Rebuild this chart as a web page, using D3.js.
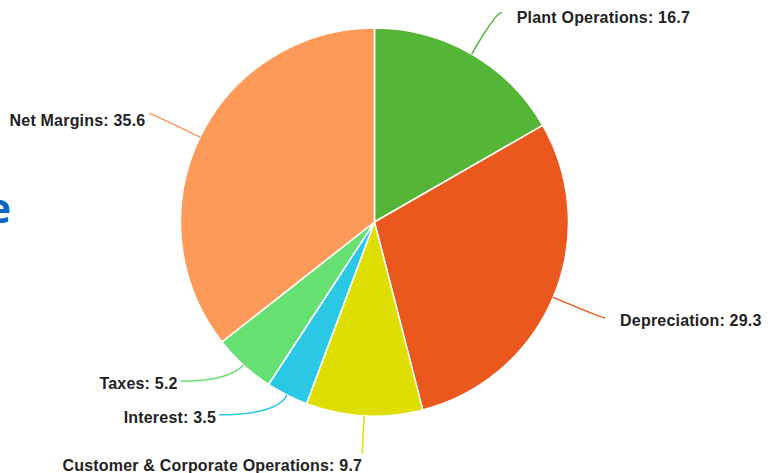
<!DOCTYPE html>
<html>
<head>
<meta charset="utf-8">
<script src="https://cdn.jsdelivr.net/npm/d3@7"></script>
<style>
    html, body { margin: 0; padding: 0; background: #fff; overflow: hidden; }
    svg { display: block; }
</style>
</head>
<body>
<div class="Canvas"></div>
<script>
// slices, clockwise from 12 o'clock
const categories = ['Plant Operations', 'Depreciation', 'Customer & Corporate Operations', 'Interest', 'Taxes', 'Net Margins'];
const values = [16.7, 29.3, 9.7, 3.5, 5.2, 35.6];
const colors = ['#55b536', '#ea581d', '#dedf00', '#2bc8e6', '#66e072', '#fd9a59'];

// label placement: radius of the elbow, horizontal run after it, text nudge
const labelExt = [242, 247, 232, 216, 216, 248];
const labelRun = [6, 3, 0, 58, 48, 2];
const labelDx = [15, 15, 0, -3, -3, -4];
const labelDy = [10, 8, 17, 8, 8, 12];

const width = 771;
const height = 473;
const cx = 374.5;
const cy = 222;
const radius = 194;

let svg = d3.select('.Canvas').append('svg').attr('width', width).attr('height', height);

// clipped heading word from the slide behind the chart
svg.append('text')
    .attr('x', 11)
    .attr('y', 223)
    .attr('text-anchor', 'end')
    .attr('font-family', '"Open Sans", "Liberation Sans", Arial, sans-serif')
    .attr('font-weight', 'bold')
    .attr('font-size', '42px')
    .attr('fill', '#0b67c2')
    .text('Secure');

let pie = d3.pie().sort(null).value((d) => d.value);
let arc = d3.arc().innerRadius(0).outerRadius(radius);

let data = categories.map((c, i) => ({ name: c, value: values[i], color: colors[i], i: i }));
let arcs = pie(data);

let g = svg.append('g').attr('transform', `translate(${cx},${cy})`);

g.selectAll('path.slice')
    .data(arcs)
    .enter()
    .append('path')
    .attr('class', 'slice')
    .attr('d', arc)
    .attr('fill', (d) => d.data.color)
    .attr('stroke', '#fff')
    .attr('stroke-width', 1.5)
    .attr('stroke-linejoin', 'round');

// point on a circle of radius r at angle a (0 = up, clockwise)
function polar(a, r) {
    return [Math.sin(a) * r, -Math.cos(a) * r];
}

let labels = arcs.map((d) => {
    let i = d.data.i;
    let mid = (d.startAngle + d.endAngle) / 2;
    let side = Math.sin(mid) >= 0 ? 1 : -1;
    let start = polar(mid, radius);
    let elbow = polar(mid, labelExt[i]);
    let end = [elbow[0] + side * labelRun[i], elbow[1]];
    return { d: d, i: i, side: side, start: start, elbow: elbow, end: end };
});

g.selectAll('path.connector')
    .data(labels)
    .enter()
    .append('path')
    .attr('class', 'connector')
    .attr('d', (l) => `M${l.start[0]},${l.start[1]}Q${l.elbow[0]},${l.elbow[1]} ${l.end[0]},${l.end[1]}`)
    .attr('fill', 'none')
    .attr('stroke', (l) => l.d.data.color)
    .attr('stroke-width', 1.5);

g.selectAll('text.label')
    .data(labels)
    .enter()
    .append('text')
    .attr('class', 'label')
    .attr('x', (l) => l.end[0] + labelDx[l.i])
    .attr('y', (l) => l.end[1] + labelDy[l.i])
    .attr('text-anchor', (l) => (l.side > 0 ? 'start' : 'end'))
    .attr('font-family', '"Liberation Sans", Arial, sans-serif')
    .attr('font-weight', 'bold')
    .attr('font-size', '16px')
    .attr('letter-spacing', '0.2px')
    .attr('fill', '#222')
    .text((l) => `${l.d.data.name}: ${l.d.data.value}`);
</script>
</body>
</html>
